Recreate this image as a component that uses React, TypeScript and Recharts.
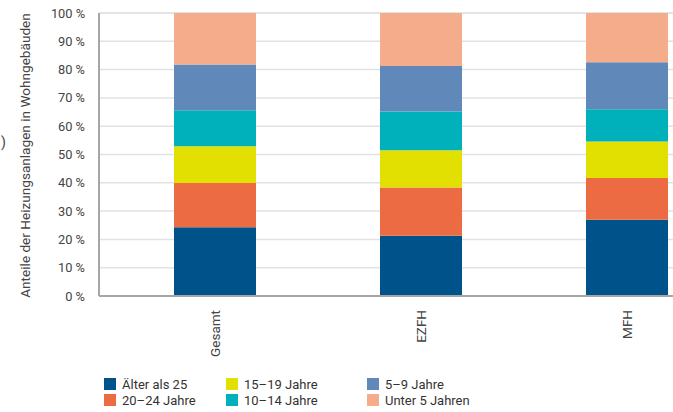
import { Bar, BarChart, CartesianGrid, XAxis, YAxis } from "recharts";

const categories = ["Gesamt", "EZFH", "MFH"];

const seriesNames = [
  "Älter als 25",
  "20–24 Jahre",
  "15–19 Jahre",
  "10–14 Jahre",
  "5–9 Jahre",
  "Unter 5 Jahren",
];
const seriesColors = ["#00538A", "#EC6B43", "#E2E000", "#00B1BC", "#6088B8", "#F5AC8A"];

// shares in percent, one array per age class (Gesamt, EZFH, MFH)
const aelter25 = [24.3, 21.3, 26.9];
const j20bis24 = [15.6, 17.0, 14.8];
const j15bis19 = [13.0, 13.2, 12.9];
const j10bis14 = [12.7, 13.7, 11.4];
const j5bis9 = [16.2, 16.1, 16.6];
const unter5 = [18.2, 18.7, 17.4];

const yTicks = [0, 10, 20, 30, 40, 50, 60, 70, 80, 90, 100];

const seriesValues = [aelter25, j20bis24, j15bis19, j10bis14, j5bis9, unter5];
const keys = ["s0", "s1", "s2", "s3", "s4", "s5"];

const data = categories.map((name, i) => {
  const row: Record<string, string | number> = { name };
  seriesValues.forEach((vals, s) => {
    row[keys[s]] = vals[i];
  });
  return row;
});

const FONT = "Roboto, 'Noto Sans', sans-serif";

function XTick(props: any) {
  const { x, y, payload } = props;
  const ty = y + 6;
  return (
    <text
      x={x}
      y={ty}
      transform={`rotate(-90 ${x} ${ty})`}
      textAnchor="end"
      dominantBaseline="central"
      fontSize={13.5}
      fontFamily={FONT}
      fill="#444"
    >
      {payload.value}
    </text>
  );
}

function YTitle(props: any) {
  const vb = props.viewBox || { x: 0, y: 0, width: 0, height: 0 };
  const cx = vb.x + 25;
  const cy = vb.y + vb.height / 2 + 1;
  return (
    <g>
      <text
        x={cx}
        y={cy}
        transform={`rotate(-90 ${cx} ${cy})`}
        textAnchor="middle"
        dominantBaseline="central"
        fontSize={13.6}
        fontFamily={FONT}
        fill="#444"
      >
        Anteile der Heizungsanlagen in Wohngebäuden
      </text>
      <text x={vb.x + 1} y={cy - 14} dominantBaseline="central" fontSize={14} fontFamily={FONT} fill="#444">
        )
      </text>
    </g>
  );
}

// legend is filled column by column, two rows
const legendCols = [104, 226, 367];
const legendRows = [384, 400];

export default function App() {
  return (
    <div
      style={{
        position: "absolute",
        left: 0,
        top: 0,
        width: 673,
        height: 412,
        overflow: "hidden",
        background: "#fff",
        fontFamily: FONT,
      }}
    >
      <BarChart
        width={730}
        height={412}
        data={data}
        margin={{ top: 13, right: 0, bottom: 40, left: 0 }}
        barSize={82}
      >
        <CartesianGrid vertical={false} stroke="#e2e2e2" strokeWidth={1.5} />
        <XAxis
          dataKey="name"
          height={76}
          padding={{ left: 13, right: 0 }}
          tickLine={false}
          axisLine={{ stroke: "#a6a6a6", strokeWidth: 2 }}
          tick={<XTick />}
          interval={0}
        />
        <YAxis
          width={99}
          domain={[0, 100]}
          ticks={yTicks}
          tickFormatter={(v) => `${v} %`}
          tickLine={false}
          tickMargin={8}
          axisLine={{ stroke: "#a6a6a6", strokeWidth: 2 }}
          tick={{ fontSize: 12.8, fill: "#444", fontFamily: FONT }}
          label={{ content: <YTitle /> }}
        />
        {keys.map((k, s) => (
          <Bar
            key={k}
            dataKey={k}
            name={seriesNames[s]}
            stackId="a"
            fill={seriesColors[s]}
            isAnimationActive={false}
          />
        ))}
      </BarChart>
      {seriesNames.map((n, s) => {
        const col = Math.floor(s / 2);
        const row = s % 2;
        return (
          <div
            key={n}
            style={{
              position: "absolute",
              left: legendCols[col],
              top: legendRows[row] - 8,
              height: 16,
              display: "flex",
              alignItems: "center",
              fontSize: 13,
              color: "#333",
              whiteSpace: "nowrap",
            }}
          >
            <span
              style={{
                display: "inline-block",
                width: 12,
                height: 12,
                background: seriesColors[s],
                marginRight: 6,
              }}
            />
            {n}
          </div>
        );
      })}
    </div>
  );
}
